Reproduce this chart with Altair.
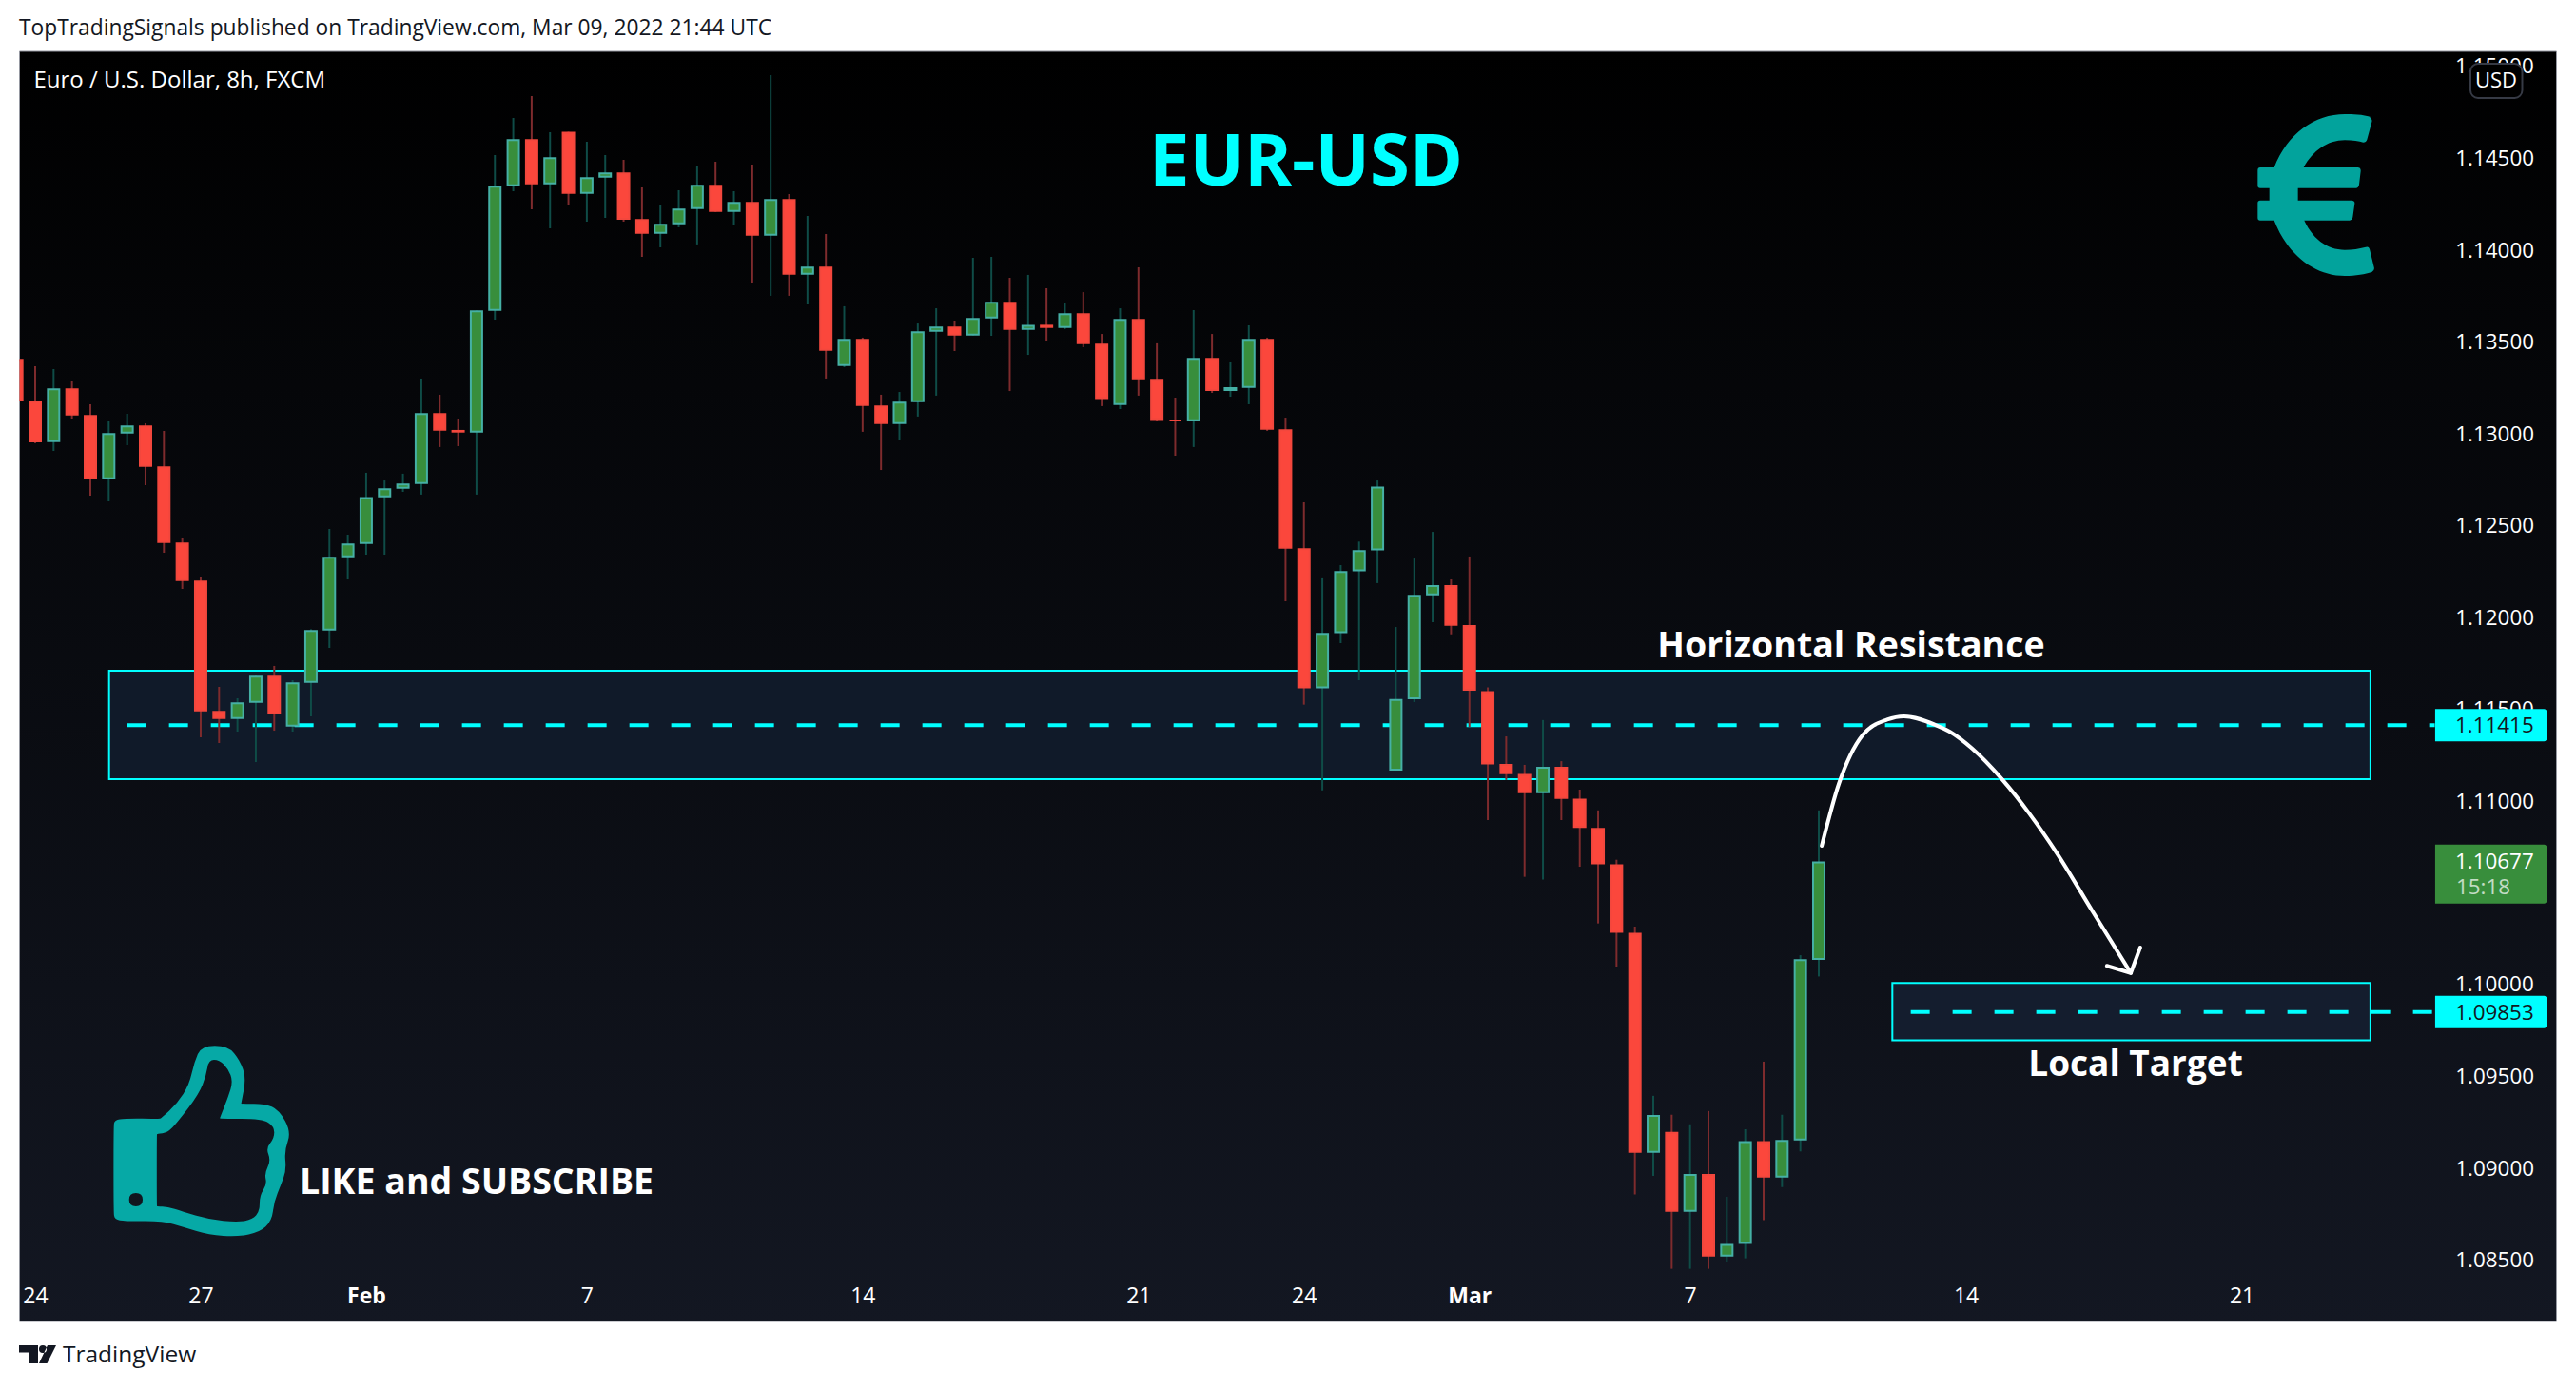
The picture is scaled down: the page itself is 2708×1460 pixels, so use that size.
import json
import re
import altair as alt
import pandas as pd

# ---- OHLC candles, prices in units of 0.00001
directions = ("R" + "RGRRGGRRRRRGGRGGGGGGGGRR" + "GGGRGRGGRRGGGRGRGRGRGRRG"
              + "GGRGGRGRGRRGRRRGRGGRRRGGGG" + "GGGRRRRRGRRRRRGRGRGGRGGG")
highs = [113460,
 113370,113355,113292,113163,113075,113111,113059,113018,112437,112220,111624,111561,111691,111738,111660,111938,112484,112453,112790,112748,112785,113303,113215,113085,
 113674,114521,114723,114842,114645,114648,114593,114521,114495,114344,114246,114329,114464,114484,114324,114469,114956,114308,114189,114090,113697,113526,113215,113230,
 113603,113686,113619,113961,113966,113852,113868,113795,113717,113774,113546,113686,113909,113495,113199,113676,113546,113391,113593,113526,113090,112629,112215,112287,112415,112748,
 111950,112323,112468,112209,112334,111621,111354,111199,111443,111219,111064,110951,110682,110318,109396,109293,109241,109313,108846,109214,109582,109293,110162,110951]
tops = [113410,
 113182,113249,113249,113104,113006,113047,113047,112824,112410,112202,111492,111539,111684,111684,111648,111933,112332,112405,112658,112705,112731,113115,113115,113023,
 113674,114353,114607,114607,114509,114648,114400,114426,114426,114172,114146,114229,114358,114358,114265,114265,114281,114281,113913,113913,113519,113519,113156,113177,
 113560,113586,113586,113633,113721,113721,113596,113596,113659,113659,113493,113628,113628,113301,113080,113415,113415,113256,113519,113519,113026,112379,111917,112254,112368,112715,
 111557,112125,112178,112178,111960,111600,111204,111149,111188,111188,111014,110855,110657,110284,109292,109200,108970,108970,108589,109149,109149,109155,110140,110672]
bottoms = [113180,
 112956,112957,113102,112755,112755,113004,112822,112408,112201,111491,111449,111449,111537,111475,111408,111646,111931,112330,112403,112657,112703,112729,113019,113009,
 113009,113672,114351,114362,114362,114310,114310,114398,114168,114092,114092,114144,114227,114211,114211,114082,114082,113869,113869,113455,113372,113154,113056,113056,
 113175,113558,113538,113538,113631,113569,113569,113579,113579,113491,113191,113159,113299,113077,113070,113071,113235,113235,113253,113025,112377,111616,111616,111916,112253,112367,
 111168,111557,112123,111957,111603,111201,111149,111045,111045,111014,110855,110657,110284,109086,109086,108765,108765,108521,108521,108589,108951,108951,109153,110137]
lows = [113100,
 112950,112909,113085,112665,112634,112940,112722,112354,112157,111349,111318,111380,111214,111385,111380,111463,111836,112209,112344,112344,112686,112671,112930,112935,
 112671,113624,114324,114225,114122,114251,114158,114179,114158,113966,114018,114127,114034,114211,114137,113826,113754,113754,113707,113303,113365,113013,112805,112966,
 113096,113210,113453,113538,113536,113235,113432,113510,113572,113474,113153,113137,113210,113070,112883,112930,113225,113204,113163,113018,112090,111527,111060,111862,111660,112189,
 111168,111541,111976,111910,111406,110898,111117,110589,110574,110898,110644,110335,110100,108859,108960,108454,108454,108454,108490,108511,108719,108899,109093,110046]

x_tick_values = [0, 9, 18, 30, 45, 60, 69, 78, 90, 105, 120]
x_tick_labels = ["24", "27", "Feb", "7", "14", "21", "24", "Mar", "7", "14", "21"]
bold_ticks = [18, 78]
y_tick_values = [1.145, 1.14, 1.135, 1.13, 1.125, 1.12, 1.11, 1.095, 1.09, 1.085]
y_covered_ticks = [1.15, 1.115, 1.105, 1.10]

resistance_zone = dict(i=4.02, i2=127.0, p=1.11712, p2=1.11121)
target_zone = dict(i=101.0, i2=127.0, p=1.10010, p2=1.09699)
resistance_level = 1.11415
target_level = 1.09853
last_price = 1.10677

arc_i = [97.16, 98.09, 99.38, 100.72, 101.63, 103.35, 104.14, 105.34, 106.98, 108.45, 110.0, 111.9, 113.97]
arc_p = [1.10758, 1.11095, 1.11361, 1.11445, 1.11463, 1.11416, 1.11379, 1.11288, 1.11119, 1.10934, 1.10710, 1.10399, 1.10065]
head_i = [112.67, 113.97, 114.48]
head_p = [1.10104, 1.10065, 1.10204]

FONT = "Open Sans"
BG_TOP, BG_BOTTOM = "#000000", "#131722"
CYAN = "#00FFFF"

# Frame of the chart inside the page
L, T, W, H = 20.5, 54.0, 2667, 1335
X_DOMAIN = [-0.8536, 137.12]
Y_DOMAIN = [1.08167, 1.150855]
sx = alt.Scale(domain=X_DOMAIN, nice=False, zero=False, padding=0)
sy = alt.Scale(domain=Y_DOMAIN, nice=False, zero=False, padding=0)

x_axis = alt.Axis(orient="bottom", values=x_tick_values, title=None, domain=False, ticks=False, grid=False, zindex=1,
                  labelExpr=json.dumps({str(v): t for v, t in zip(x_tick_values, x_tick_labels)}) + "[datum.value]",
                  labelPadding=-27, labelBaseline="middle", labelAlign="center", labelOverlap=False, labelFlush=False,
                  labelFont=FONT, labelFontSize=23, labelColor="#FFFFFF",
                  labelFontWeight=alt.expr("indexof(" + json.dumps(bold_ticks) + ", datum.value) >= 0 ? 'bold' : 'normal'"))
y_axis = alt.Axis(orient="right", values=y_tick_values, format=".5f", title=None, domain=False, ticks=False, grid=False, zindex=1,
                  labelPadding=-24, labelAlign="right", labelBaseline="middle", labelOverlap=False, labelFlush=False,
                  labelFont=FONT, labelFontSize=22.4, labelColor="#FFFFFF")

INSET = 5  # half of the body border, in price units
rows = []
for k, (d, h, t, b, l) in enumerate(zip(directions, highs, tops, bottoms, lows)):
    up = d == "G"
    tt, bb = t - INSET, b + INSET
    if tt < bb:
        tt = bb = (t + b) / 2
    rows.append(dict(i=k - 1, high=h / 1e5, low=l / 1e5, top=tt / 1e5, bottom=bb / 1e5,
                     wick="#0F4C47" if up else "#7E2B2D",
                     fill="#388E3C" if up else "#FB473C",
                     edge="#45B0A5" if up else "#F2473D"))
candles = pd.DataFrame(rows)
one = pd.DataFrame({"k": [0]})


def X(field="i"):
    return alt.X(f"{field}:Q", scale=sx, axis=x_axis)


def Y(field):
    return alt.Y(f"{field}:Q", scale=sy, axis=y_axis)


def px(x):
    return alt.value(x - L)


def py(y):
    return alt.value(y - T)


def label(text, x, y, size, color="#FFFFFF", weight="normal", align="left", font=FONT, opacity=1):
    return alt.Chart(one).mark_text(text=text, font=font, fontSize=size, fontWeight=weight, color=color,
                                    align=align, baseline="middle", opacity=opacity).encode(x=px(x), y=py(y))


def zone(z, fill):
    return alt.Chart(pd.DataFrame([z])).mark_rect(fill=fill, stroke=CYAN, strokeWidth=2).encode(
        x=X("i"), x2="i2:Q", y=Y("p"), y2="p2:Q")


def dash(i0, i1, p):
    return alt.Chart(pd.DataFrame({"i": [i0], "i2": [i1], "p": [p]})).mark_rule(
        color=CYAN, strokeWidth=4, strokeDash=[20, 24]).encode(x=X("i"), x2="i2:Q", y=Y("p"))


def box(i0, i1, p0, p1, fill):
    return alt.Chart(pd.DataFrame({"i": [i0], "i2": [i1], "p": [p0], "p2": [p1]})).mark_rect(
        fill=fill, cornerRadiusTopRight=3, cornerRadiusBottomRight=3).encode(x=X("i"), x2="i2:Q", y=Y("p"), y2="p2:Q")


def transform_path(d, fx, fy, cx, cy, s):
    def rep(m):
        a, b = float(m.group(1)), float(m.group(2))
        return f"{(fx(a) - cx) / s:.4f},{(fy(b) - cy) / s:.4f}"
    return re.sub(r"(-?[\d.]+),(-?[\d.]+)", rep, d)


def smooth(pts):
    """closed smooth contour through midpoints"""
    n = len(pts)
    mid = lambda a, b: ((a[0] + b[0]) / 2, (a[1] + b[1]) / 2)
    m0 = mid(pts[-1], pts[0])
    out = f"M{m0[0]},{m0[1]} "
    for k in range(n):
        m = mid(pts[k], pts[(k + 1) % n])
        out += f"Q{pts[k][0]},{pts[k][1]} {m[0]},{m[1]} "
    return out + "Z "


def symbol(path, x, y, s, color):
    return alt.Chart(one).mark_point(shape=path, size=(2 * s) ** 2, filled=True, fill=color, opacity=1,
                                     strokeWidth=0).encode(x=px(x), y=py(y))


# Euro sign
euro = ("M580,250 C550,240 520,240 495,240 C400,240 315,300 272,408 L228,408 Q220,408 220,418 L220,465 Q220,473 228,473 "
        "L257,473 L257,512 L228,512 Q220,512 220,520 L220,567 Q220,575 228,575 L272,575 C315,685 400,750 495,750 "
        "C530,750 560,745 580,738 Q590,733 587,722 L573,665 Q570,655 558,660 C540,665 520,668 495,668 "
        "C440,668 395,635 367,575 L510,575 Q518,575 520,565 L526,522 Q527,512 515,512 L347,512 L347,473 L530,473 "
        "Q538,473 540,462 L545,420 Q546,408 535,408 L365,408 C395,355 440,322 495,322 C520,322 540,325 553,329 "
        "Q562,329 565,320 L580,265 Q583,253 572,248 Z")
euro_path = transform_path(euro, lambda a: 2300 + a / 3, lambda b: 40 + b / 3, 2434.5, 205, 90)

# Thumb
thumb_outer = [(234, 372), (236, 352), (258, 347), (328, 348), (332, 346), (365, 300), (390, 240), (400, 170), (415, 118), (470, 118),
               (495, 165), (507, 220), (497, 299), (497, 301), (545, 300), (575, 320), (600, 390), (586, 448), (590, 510), (578, 560),
               (565, 608), (560, 670), (535, 705), (490, 720), (430, 714), (380, 690), (335, 670), (258, 671), (236, 665), (234, 640)]
thumb_inner = [(324, 396), (345, 392), (365, 360), (410, 270), (425, 210), (430, 162), (452, 162), (470, 190), (480, 230),
               (470, 280), (453, 345), (453, 348), (540, 348), (565, 372), (565, 410), (548, 440), (558, 480), (545, 520), (550, 555),
               (535, 590), (535, 640), (520, 665), (490, 674), (430, 665), (375, 640), (345, 625), (324, 624), (323, 622), (323, 398)]
thumb_hole = [(266, 582), (294, 582), (294, 624), (266, 624)]
thumb = smooth(thumb_outer) + smooth(thumb_inner[::-1]) + smooth(thumb_hole[::-1])
thumb_path = transform_path(thumb, lambda a: a / 1.96, lambda b: 1060 + b / 3, 212.5, 1198.5, 105)

# TradingView logo
tv = ("M20,1414 L40,1414 L40,1433 L30,1433 L30,1421.5 L20,1421.5 Z "
      "M49,1418 Q49,1414 45,1414 Q41,1414 41,1418 Q41,1422 45,1422 Q49,1422 49,1418 Z "
      "M50,1414 L59,1414 L49.5,1433 L41,1433 Z")
tv_path = transform_path(tv, lambda a: a, lambda b: b, 39.5, 1423.5, 20)

gradient = alt.LinearGradient(gradient="linear", x1=0, x2=0, y1=0, y2=1,
                              stops=[alt.GradientStop(color=BG_TOP, offset=0),
                                     alt.GradientStop(color=BG_BOTTOM, offset=1)])
backdrop = alt.Chart(one).mark_rect(fill=gradient, stroke="#9598A1", strokeWidth=1).encode(
    x=alt.value(0), x2=alt.value(W), y=alt.value(0), y2=alt.value(H))

wicks = alt.Chart(candles).mark_rule(strokeWidth=2, clip=True).encode(
    x=X("i"),
    y=Y("high"),
    y2="low:Q",
    color=alt.Color("wick:N", scale=None),
)
bodies = alt.Chart(candles).mark_bar(size=12, strokeWidth=2, clip=True).encode(
    x=X("i"),
    y=Y("top"),
    y2="bottom:Q",
    fill=alt.Fill("fill:N", scale=None),
    stroke=alt.Stroke("edge:N", scale=None),
)

arc = alt.Chart(pd.DataFrame({"i": arc_i, "p": arc_p})).mark_line(
    color="#FFFFFF", strokeWidth=4, interpolate="monotone", strokeCap="round").encode(x=X("i"), y=Y("p"))
head = alt.Chart(pd.DataFrame({"i": head_i, "p": head_p})).mark_line(
    color="#FFFFFF", strokeWidth=4, strokeJoin="round", strokeCap="round").encode(x=X("i"), y=Y("p"))

covered_ticks = alt.Chart(pd.DataFrame({"p": y_covered_ticks, "t": [f"{v:.5f}" for v in y_covered_ticks]})).mark_text(
    font=FONT, fontSize=22.4, color="#FFFFFF", align="right", baseline="middle").encode(
    x=px(2663.7), y=Y("p"), text="t:N")

usd_box = alt.Chart(one).mark_rect(fill="#000000", stroke="#363A45", strokeWidth=2, cornerRadius=8).encode(
    x=px(2597), x2=px(2651.5), y=py(67), y2=py(103))

layers = [
    backdrop,
    zone(resistance_zone, "#101A29"),
    zone(target_zone, "#141D2E"),
    dash(5, 130.5, resistance_level),
    dash(102, 130.5, target_level),
    wicks,
    bodies,
    arc,
    head,
    covered_ticks,
    box(130.52, 136.6, resistance_level + 0.00088, resistance_level - 0.00088, CYAN),
    box(130.52, 136.6, last_price + 0.00088, last_price - 0.00233, "#388E3C"),
    box(130.52, 136.6, target_level + 0.00088, target_level - 0.00088, CYAN),
    label("1.11415", 2663.7, 763, 22.4, "#131722", align="right"),
    label("1.10677", 2663.7, 906, 22.4, align="right"),
    label("15:18", 2582, 933, 22.4, "#FFFFFF", align="left", opacity=0.7),
    label("1.09853", 2663.7, 1065, 22.4, "#131722", align="right"),
    usd_box,
    label("USD", 2624, 85, 22, align="center"),
    symbol(euro_path, 2434.5, 205, 90, "#02A39C"),
    symbol(thumb_path, 212.5, 1198.5, 105, "#06A9A6"),
    symbol(tv_path, 39.5, 1423.5, 20, "#131722"),
    label("TopTradingSignals published on TradingView.com, Mar 09, 2022 21:44 UTC", 20, 30, 22.8, "#131722"),
    label("Euro / U.S. Dollar, 8h, FXCM", 35.5, 85, 24),
    label("EUR-USD", 1373, 172, 76, CYAN, "bold", "center"),
    label("Horizontal Resistance", 1946, 680, 37.5, weight="bold", align="center"),
    label("Local Target", 2245, 1120, 37, weight="bold", align="center"),
    label("LIKE and SUBSCRIBE", 315, 1244, 37.5, weight="bold"),
    label("TradingView", 66, 1425, 24.5, "#131722"),
]

chart = alt.layer(*layers).properties(
    width=W,
    height=H,
    background="#FFFFFF",
    padding={"left": L - 8, "top": T - 8, "right": 12, "bottom": 60},
    autosize=alt.AutoSizeParams(type="none"),
    view=alt.ViewBackground(stroke=None),
)
chart.save("out.html", embed_options={"renderer": "svg", "actions": False})
